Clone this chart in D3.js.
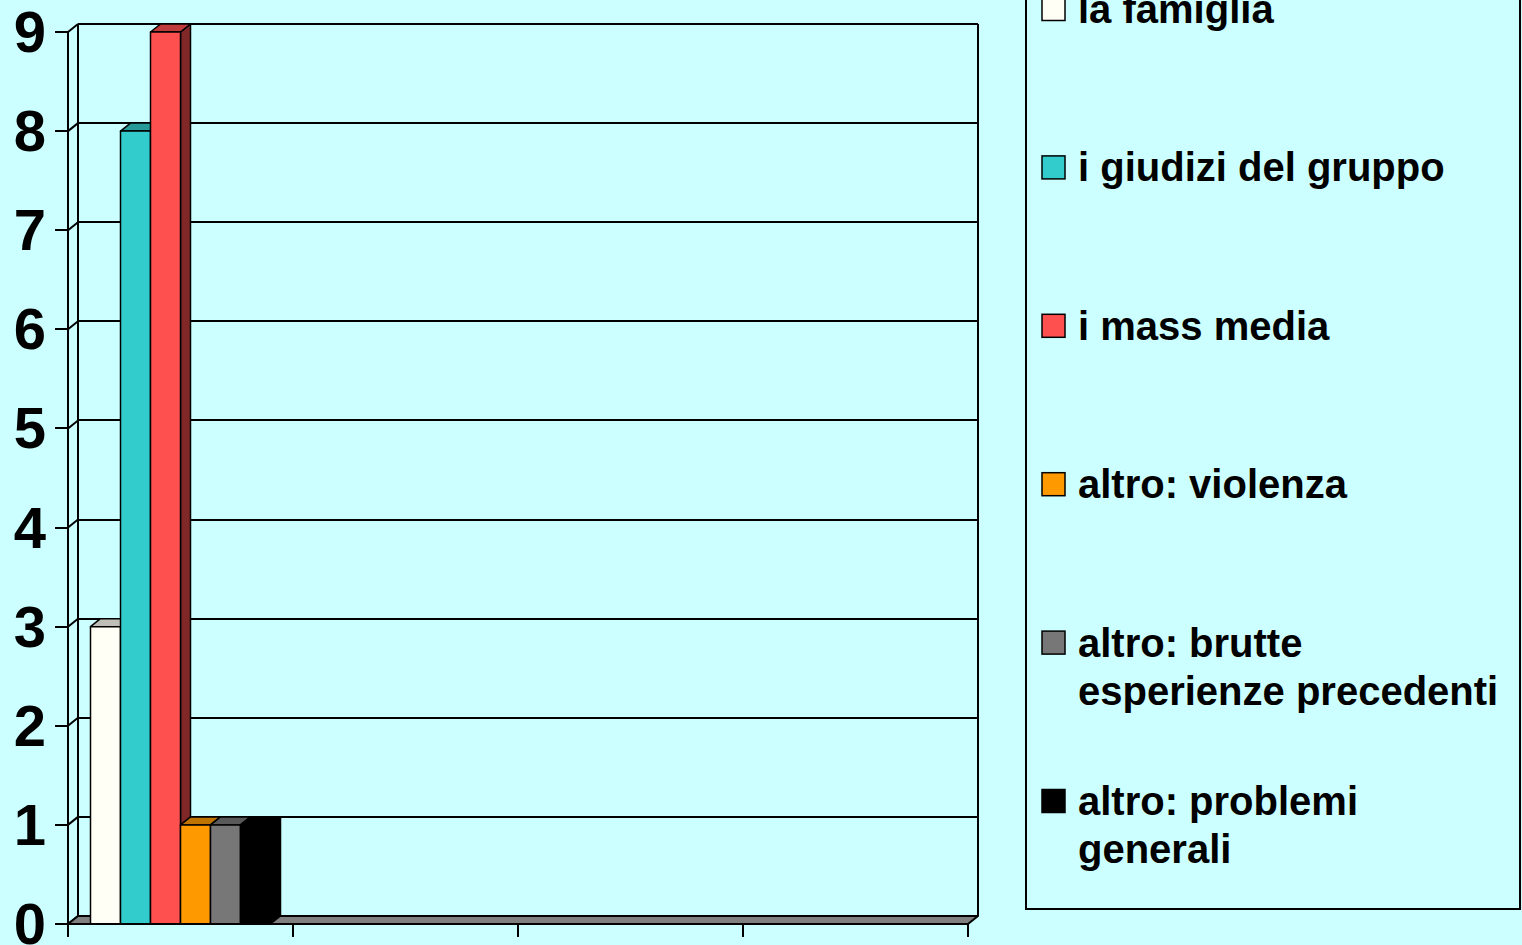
<!DOCTYPE html>
<html>
<head>
<meta charset="utf-8">
<script src="https://cdn.jsdelivr.net/npm/d3@7"></script>
<style>
  html, body { margin: 0; padding: 0; background: #CCFFFF; overflow: hidden; }
  svg { display: block; }
  text { font-family: "Liberation Sans", Arial, sans-serif; font-weight: bold; fill: #000; }
  line.hv { shape-rendering: crispEdges; }
</style>
</head>
<body>
<svg id="chart" width="1522" height="945"></svg>
<script>
// ---- data ----
const categories = ["c1", "c2", "c3", "c4"];
const seriesNames = ["la famiglia", "i giudizi del gruppo", "i mass media", "altro: violenza", "altro: brutte esperienze precedenti", "altro: problemi generali"];
const legendLines = [["la famiglia"], ["i giudizi del gruppo"], ["i mass media"], ["altro: violenza"], ["altro: brutte", "esperienze precedenti"], ["altro: problemi", "generali"]];
const famiglia = [3, null, null, null];
const giudizi = [8, null, null, null];
const massMedia = [9, null, null, null];
const violenza = [1, null, null, null];
const brutte = [1, null, null, null];
const problemi = [1, null, null, null];
const seriesValues = [famiglia, giudizi, massMedia, violenza, brutte, problemi];
const yTicks = [0, 1, 2, 3, 4, 5, 6, 7, 8, 9];
const colors = ["#FFFFF5", "#33CCCC", "#FF5050", "#FF9900", "#777777", "#000000"];
const topColors = ["#BFBFB8", "#269999", "#C03C3C", "#BF7300", "#595959", "#000000"];
const sideColors = ["#80807A", "#1A6666", "#802828", "#804D00", "#3C3C3C", "#000000"];

// ---- layout ----
const svg = d3.select("#chart");
const DX = 10, DY = -8;
const x0 = d3.scaleBand().domain(categories).range([68, 968]).paddingInner(0).paddingOuter(0);
const x1 = d3.scaleBand().domain(seriesNames).range([0, x0.bandwidth()]).paddingInner(0).paddingOuter(0.75);
const y = d3.scaleLinear().domain([0, 9]).range([924, 32]);
const xL = x0.range()[0], xR = x0.range()[1];
const yTop = y(9), yBot = y(0);

const g = svg.append("g");
const line = (pts) => "M" + pts.map(p => p.join(",")).join("L") + "Z";

// back wall grid lines
g.selectAll(".grid").data(yTicks.filter(d => d > 0)).enter().append("line").attr("class", "hv")
  .attr("x1", xL + DX).attr("x2", xR + DX)
  .attr("y1", d => Math.round(y(d) + DY)).attr("y2", d => Math.round(y(d) + DY))
  .attr("stroke", "#000").attr("stroke-width", 2);
// back wall edges
g.append("line").attr("class", "hv").attr("x1", xL + DX).attr("x2", xL + DX).attr("y1", yTop + DY).attr("y2", yBot + DY).attr("stroke", "#000").attr("stroke-width", 2);
g.append("line").attr("class", "hv").attr("x1", xR + DX).attr("x2", xR + DX).attr("y1", yTop + DY).attr("y2", yBot + DY).attr("stroke", "#000").attr("stroke-width", 2);
// side wall: front vertical + diagonals
g.append("line").attr("class", "hv").attr("x1", xL).attr("x2", xL).attr("y1", yTop).attr("y2", yBot).attr("stroke", "#000").attr("stroke-width", 2);
g.selectAll(".diag").data(yTicks).enter().append("line")
  .attr("x1", xL).attr("x2", xL + DX)
  .attr("y1", d => y(d)).attr("y2", d => y(d) + DY)
  .attr("stroke", "#000").attr("stroke-width", 2);
// floor
g.append("path").attr("d", line([[xL, yBot], [xR, yBot], [xR + DX, yBot + DY], [xL + DX, yBot + DY]]))
  .attr("fill", "#808080").attr("stroke", "#000").attr("stroke-width", 2).attr("stroke-linejoin", "round");

// bars
const bars = [];
categories.forEach((c, ci) => {
  seriesNames.forEach((s, si) => {
    const v = seriesValues[si][ci];
    if (v == null) return;
    bars.push({ x: x0(c) + x1(s), w: x1.bandwidth(), v, si });
  });
});
const bg = g.append("g");
bars.forEach(b => {
  const xa = b.x, xb = b.x + b.w, yt = y(b.v), yb = y(0);
  const grp = bg.append("g").attr("stroke", "#000").attr("stroke-width", 1.5).attr("stroke-linejoin", "round");
  grp.append("path").attr("d", line([[xb, yt], [xb + DX, yt + DY], [xb + DX, yb + DY], [xb, yb]])).attr("fill", sideColors[b.si]);
  grp.append("path").attr("d", line([[xa, yt], [xb, yt], [xb + DX, yt + DY], [xa + DX, yt + DY]])).attr("fill", topColors[b.si]);
  grp.append("rect").attr("x", xa).attr("y", yt).attr("width", b.w).attr("height", yb - yt).attr("fill", colors[b.si]);
});

// axes
g.append("line").attr("class", "hv").attr("x1", xL).attr("x2", xR).attr("y1", yBot).attr("y2", yBot).attr("stroke", "#000").attr("stroke-width", 2);
const xTickPos = categories.map(c => x0(c)).concat([xR]);
g.selectAll(".xt").data(xTickPos).enter().append("line").attr("class", "hv")
  .attr("x1", d => d).attr("x2", d => d).attr("y1", yBot).attr("y2", yBot + 13)
  .attr("stroke", "#000").attr("stroke-width", 2);
g.selectAll(".yt").data(yTicks).enter().append("line").attr("class", "hv")
  .attr("x1", xL - 13).attr("x2", xL).attr("y1", d => Math.round(y(d))).attr("y2", d => Math.round(y(d)))
  .attr("stroke", "#000").attr("stroke-width", 2);
g.selectAll(".yl").data(yTicks).enter().append("text")
  .attr("x", 46).attr("y", d => y(d) + 20)
  .attr("text-anchor", "end").attr("font-size", 58).text(d => d);

// legend
const lg = svg.append("g");
lg.append("rect").attr("x", 1026).attr("y", -60).attr("width", 494).attr("height", 969)
  .attr("fill", "none").attr("stroke", "#000").attr("stroke-width", 2).style("shape-rendering", "crispEdges");
const legendY = d3.scalePoint().domain(seriesNames).range([9, 801]);
seriesNames.forEach((s, i) => {
  const cy = legendY(s);
  lg.append("rect").attr("x", 1042).attr("y", cy - 11.5).attr("width", 23).attr("height", 23)
    .attr("fill", colors[i]).attr("stroke", "#000").attr("stroke-width", 1.5);
  const t = lg.append("text").attr("x", 1078).attr("y", cy + 14).attr("font-size", 40);
  legendLines[i].forEach((ln, k) => {
    t.append("tspan").attr("x", 1078).attr("dy", k === 0 ? 0 : 48).text(ln);
  });
});
</script>
</body>
</html>
